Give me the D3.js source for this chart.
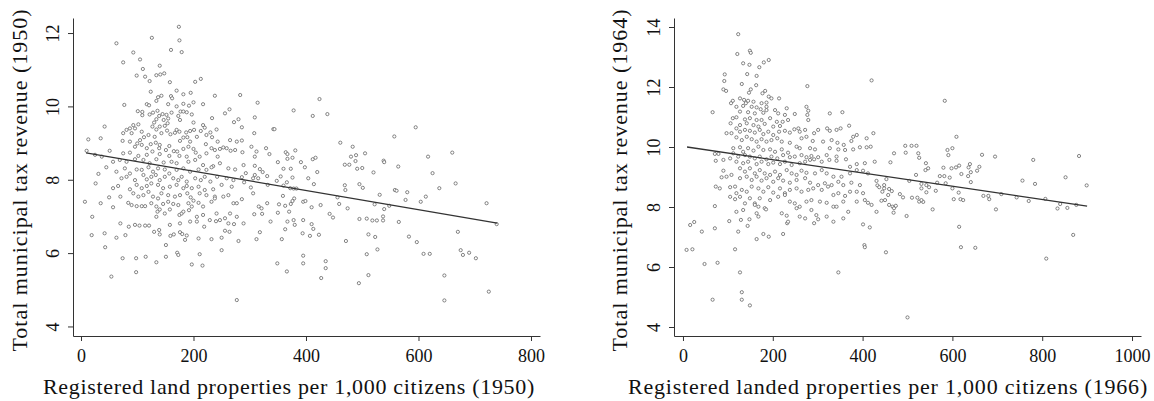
<!DOCTYPE html>
<html>
<head>
<meta charset="utf-8">
<script src="https://cdn.jsdelivr.net/npm/d3@7"></script>
<style>
    body { margin: 0; background: #fff; }
    text { font-family: "Liberation Serif", "DejaVu Serif", serif; fill: #111; }
    .tickLabel { font-size: 18px; }
    .axisTitle { font-size: 22px; }
    .punkt { fill: #fff; stroke: #666; stroke-width: 0.8; }
    .fitLine { stroke: #333; stroke-width: 1.3; fill: none; }
</style>
</head>
<body>
<div id="wrapper"></div>
<script>
// Punkte: [Grundstücke pro 1000 Einwohner, Steuereinnahmen]
const points1950 = [
[174,12.17],[126,11.87],[63,11.72],[175,11.8],[160,11.54],[179,11.48],[93,11.47],[75,11.2],[105,11.28],[140,11.11],[110,11.02],[99,10.84],[114,10.81],[134,10.85],[141,10.87],[148,10.9],[213,10.75],
[122,10.69],[158,10.66],[203,10.67],[124,10.40],[143,10.29],[137,10.25],[160,10.28],[162,10.22],[170,10.43],[182,10.33],[195,10.37],[238,10.29],[283,10.31],[134,10.15],[117,10.06],[121,10.03],[77,10.04],[155,10.06],[170,10.0],[182,10.07],[192,10.02],[200,10.11],[217,10.06],
[101,9.87],[109,9.85],[109,9.76],[122,9.78],[136,9.88],[139,9.74],[145,9.79],[152,9.77],[155,9.67],[147,9.63],[134,9.65],[128,9.83],[161,9.83],[173,9.74],[177,9.86],[182,9.86],[188,9.84],[176,9.63],[197,9.78],[233,9.68],[256,9.81],[264,9.92],[272,9.57],[280,9.65],[200,9.56],[130,9.56],[154,9.54],
[42,9.45],[93,9.49],[102,9.51],[87,9.40],[96,9.40],[81,9.36],[75,9.27],[90,9.27],[108,9.31],[127,9.45],[134,9.37],[140,9.45],[149,9.47],[143,9.27],[153,9.34],[170,9.36],[175,9.31],[167,9.28],[187,9.29],[194,9.33],[201,9.36],[217,9.49],[220,9.42],[213,9.33],[230,9.29],[241,9.37],[223,9.22],[120,9.22],[131,9.17],[112,9.16],[105,9.08],[159,9.24],[182,9.15],[189,9.16],[176,9.06],[194,9.04],[206,9.17],[233,9.16],[243,9.04],[265,9.08],[277,9.04],[13,9.1],[35,9.13],
[74,9.06],[87,9.04],[100,8.99],[96,8.90],[108,8.95],[117,8.86],[124,8.97],[133,9.01],[140,8.95],[139,8.86],[127,8.77],[151,8.81],[157,8.92],[165,8.78],[171,8.77],[182,8.84],[191,8.90],[200,8.84],[204,8.74],[222,8.97],[232,8.86],[238,8.81],[247,8.84],[253,8.88],[259,8.86],[266,8.79],[274,8.81],[223,8.72],[10,8.79],[25,8.68],[51,8.79],[75,8.72],[87,8.74],[102,8.65],[117,8.68],[140,8.70],[157,8.65],[175,8.65],[188,8.63],[211,8.63],[243,8.63],
[37,8.63],[57,8.49],[69,8.54],[81,8.49],[96,8.56],[111,8.54],[122,8.45],[134,8.56],[147,8.47],[161,8.49],[170,8.45],[191,8.49],[203,8.54],[217,8.40],[235,8.37],[247,8.45],[262,8.31],[274,8.28],[45,8.34],[63,8.22],[78,8.31],[87,8.17],[99,8.28],[108,8.27],[120,8.34],[128,8.22],[137,8.31],[149,8.28],[157,8.17],[170,8.27],[182,8.31],[194,8.22],[209,8.28],[223,8.27],[232,8.34],
[31,8.16],[72,8.04],[81,8.08],[96,7.99],[111,8.13],[117,8.01],[125,8.08],[133,8.13],[140,7.99],[149,8.08],[164,8.04],[173,7.99],[179,8.08],[188,7.95],[203,8.04],[213,7.99],[220,8.08],[230,7.95],[242,8.08],[259,8.04],[271,7.99],[26,7.90],[57,7.77],[66,7.83],[87,7.74],[99,7.86],[108,7.77],[117,7.83],[125,7.90],[137,7.86],[146,7.77],[158,7.81],[170,7.86],[182,7.77],[188,7.83],[197,7.77],[209,7.81],[220,7.72],[235,7.74],[250,7.86],[268,7.81],
[93,7.63],[102,7.54],[111,7.58],[120,7.67],[128,7.54],[137,7.49],[143,7.63],[155,7.58],[167,7.54],[176,7.58],[189,7.63],[195,7.52],[211,7.63],[223,7.58],[238,7.54],[253,7.54],[262,7.58],[50,7.52],[70,7.54],[84,7.37],[90,7.31],[99,7.28],[108,7.28],[114,7.28],[125,7.36],[134,7.27],[146,7.34],[155,7.40],[164,7.34],[173,7.31],[191,7.36],[200,7.43],[209,7.37],[217,7.27],[232,7.40],[238,7.49],[271,7.36],[277,7.36],[7,7.40],[35,7.36],[57,7.25],
[136,7.13],[140,7.19],[134,6.99],[149,7.08],[158,7.19],[175,7.04],[179,7.08],[182,7.13],[192,7.17],[197,7.27],[206,6.99],[194,6.86],[217,7.04],[229,6.90],[241,7.08],[247,6.90],[256,6.95],[265,7.08],[277,6.99],[20,6.99],[70,6.81],[85,6.72],[96,6.77],[104,6.75],[114,6.75],[121,6.75],[158,6.77],[176,6.81],[206,6.86],[219,6.72],[240,6.87],[262,6.81],[272,6.79],
[19,6.49],[42,6.54],[63,6.42],[79,6.49],[130,6.58],[139,6.63],[140,6.51],[159,6.47],[165,6.51],[176,6.57],[180,6.52],[188,6.48],[185,6.36],[209,6.40],[232,6.38],[250,6.42],[256,6.61],[264,6.58],[280,6.33],[43,6.16],[151,6.22],[250,6.08],[74,5.86],[98,5.86],[115,5.90],[134,5.75],[151,5.90],[171,6.01],[173,5.95],[197,5.69],[211,5.97],[216,5.66],[98,5.48],[54,5.36],[277,4.72],
[314,10.10],[424,10.20],[378,9.89],[309,9.70],[412,9.74],[438,9.79],[286,9.43],[342,9.38],[344,9.38],[595,9.43],[308,9.27],[557,9.18],[461,9.01],[286,9.07],[303,8.90],[329,8.86],[483,8.90],[312,8.77],[335,8.70],[364,8.75],[381,8.80],[367,8.70],[376,8.60],[287,8.75],[309,8.63],[367,8.57],[391,8.48],[412,8.56],[417,8.60],[480,8.63],[489,8.67],[505,8.72],[488,8.51],[538,8.52],[539,8.48],[617,8.63],
[469,8.41],[477,8.41],[289,8.40],[309,8.38],[350,8.48],[360,8.30],[373,8.30],[398,8.34],[564,8.36],[491,8.30],[500,8.32],[318,8.29],[323,8.21],[293,8.18],[420,8.21],[520,8.20],[625,8.18],[331,8.10],[309,8.13],[355,8.09],[376,8.06],[404,8.04],[306,8.04],[315,8.04],[286,8.07],[348,7.97],[366,7.93],[290,7.93],[332,7.86],[414,7.88],[360,7.84],[495,7.88],[469,7.85],[372,7.77],[378,7.76],[383,7.76],[470,7.72],[501,7.78],[302,7.79],[637,7.77],
[306,7.63],[558,7.72],[561,7.70],[580,7.66],[359,7.56],[456,7.52],[531,7.59],[613,7.54],[379,7.49],[376,7.42],[395,7.40],[399,7.42],[286,7.47],[577,7.45],[604,7.40],[331,7.36],[352,7.33],[363,7.29],[373,7.34],[410,7.25],[426,7.31],[459,7.34],[522,7.33],[548,7.29],[316,7.27],[321,7.22],[474,7.22],[539,7.20],[350,7.10],[370,7.13],[308,7.06],[322,7.07],[442,7.07],[448,6.97],[495,6.93],[508,6.94],[518,6.89],[526,6.89],[537,7.00],[537,6.89],
[337,6.86],[367,6.86],[378,6.90],[395,6.90],[380,6.77],[410,6.79],[289,6.81],[565,6.85],[363,6.65],[413,6.66],[318,6.57],[394,6.54],[407,6.47],[423,6.50],[511,6.51],[523,6.44],[312,6.38],[357,6.38],[471,6.33],[583,6.45],[597,6.30],[527,6.10],[395,5.93],[508,5.97],[609,5.98],[620,5.98],[349,5.72],[395,5.72],[435,5.78],[366,5.50],[435,5.59],[511,5.40],[427,5.32],[494,5.18],
[660,8.74],[666,7.9],[721,7.36],[739,6.79],[670,6.58],[675,6.08],[679,5.95],[690,6.01],[702,5.86],[646,5.39],[646,4.71],[725,4.95]
];

const points1964 = [
[123,13.76],[121,13.10],[149,13.21],[151,13.14],[420,12.22],[583,11.54],[882,9.70],[852,8.99],[899,8.72],[876,8.07],[869,7.07],[856,7.97],[840,8.1],[500,4.32],[8,6.57],[66,4.91],[131,5.16],[131,4.91],[149,4.72],
[134,12.79],[148,12.74],[170,12.66],[180,12.82],[191,12.9],[93,12.42],[143,12.43],[164,12.37],[92,12.2],[131,12.1],[163,12.06],[277,12.03],[90,11.92],[96,11.87],[151,11.92],[147,11.81],[183,11.87],[177,11.79],[191,11.68],[197,11.62],[214,11.62],[127,11.62],[136,11.57],[145,11.54],[157,11.51],[111,11.54],[107,11.46],[140,11.46],[175,11.46],[186,11.48],
[119,11.34],[134,11.37],[153,11.34],[164,11.32],[173,11.26],[186,11.34],[205,11.23],[231,11.29],[66,11.16],[127,11.18],[145,11.16],[160,11.12],[179,11.14],[186,11.23],[212,11.12],[227,11.07],[249,11.1],[275,11.34],[279,11.21],[277,11.07],[279,10.9],[327,11.12],[355,11.16],[111,10.96],[119,10.99],[138,10.92],[149,10.96],[164,10.9],[175,10.9],[194,10.96],[209,10.84],[222,10.84],[234,10.9],[106,10.79],[127,10.73],[142,10.79],[157,10.73],[168,10.68],[182,10.77],[201,10.68],[216,10.7],[370,10.71],
[97,10.46],[108,10.46],[119,10.62],[127,10.51],[138,10.57],[149,10.54],[160,10.48],[171,10.57],[179,10.43],[190,10.51],[201,10.4],[214,10.51],[227,10.54],[238,10.48],[248,10.59],[257,10.62],[260,10.51],[272,10.57],[292,10.46],[301,10.57],[321,10.62],[327,10.54],[342,10.57],[351,10.62],[387,10.4],[379,10.34],[409,10.29],[119,10.32],[131,10.23],[142,10.34],[153,10.26],[164,10.18],[175,10.26],[186,10.18],[197,10.23],[210,10.29],[220,10.18],[238,10.14],[264,10.29],[275,10.34],[289,10.2],[312,10.18],[331,10.23],[344,10.14],[358,10.07],[375,10.2],[394,9.99],[409,9.99],
[112,9.96],[127,9.99],[134,9.84],[145,9.96],[157,9.88],[168,10.01],[179,9.9],[194,9.92],[205,9.84],[220,9.92],[234,9.81],[253,10.01],[260,9.96],[283,9.96],[294,9.92],[327,9.96],[346,9.92],[361,9.9],[379,9.92],[71,9.77],[79,9.77],[112,9.79],[123,9.68],[138,9.73],[149,9.68],[160,9.62],[171,9.68],[186,9.59],[197,9.68],[210,9.62],[223,9.73],[238,9.66],[249,9.68],[264,9.73],[275,9.66],[286,9.7],[301,9.66],[320,9.73],[342,9.68],[363,9.59],[90,9.57],[105,9.62],[73,9.54],[119,9.51],[134,9.46],[145,9.51],[164,9.43],[175,9.51],[190,9.43],[201,9.48],[216,9.43],[227,9.51],[242,9.4],[260,9.46],[272,9.51],[283,9.57],[292,9.59],[309,9.51],[326,9.57],[342,9.54],[372,9.34],[387,9.43],[405,9.46],
[90,9.21],[108,9.07],[97,9.01],[86,8.99],[127,9.29],[138,9.18],[149,9.29],[160,9.12],[171,9.23],[182,9.12],[194,9.07],[205,9.18],[216,9.07],[231,9.23],[242,9.12],[253,9.07],[264,9.21],[275,9.14],[294,9.12],[309,9.23],[320,9.12],[335,9.01],[353,9.01],[372,9.12],[387,9.23],[401,9.21],[412,9.12],[127,8.96],[142,9.01],[153,8.9],[164,9.01],[175,8.88],[186,8.96],[201,8.84],[212,8.96],[223,8.88],[238,8.81],[253,8.9],[272,8.96],[283,8.81],[301,8.73],[316,8.79],[331,8.73],[346,8.84],[357,8.73],[375,8.81],[394,8.73],
[73,8.68],[82,8.62],[105,8.66],[116,8.68],[119,8.46],[131,8.57],[142,8.51],[153,8.68],[168,8.62],[179,8.51],[190,8.66],[201,8.48],[216,8.62],[227,8.46],[238,8.57],[253,8.62],[264,8.51],[279,8.57],[290,8.62],[309,8.57],[323,8.68],[335,8.4],[346,8.46],[361,8.37],[372,8.51],[387,8.51],[401,8.46],[412,8.14],[105,8.34],[116,8.26],[127,8.34],[138,8.12],[149,8.29],[160,8.12],[171,8.29],[182,7.96],[194,8.23],[212,8.34],[227,8.4],[238,8.18],[249,8.12],[260,8.01],[275,8.18],[286,8.23],[305,8.18],[320,8.14],[335,8.01],[342,8.01],[357,8.18],[387,8.18],[405,8.23],[71,8.03],
[119,7.84],[134,7.9],[160,8.07],[168,8.01],[164,7.79],[220,7.79],[231,7.71],[253,7.96],[272,7.62],[260,7.68],[286,7.9],[297,7.73],[320,7.68],[335,7.51],[357,7.62],[368,7.84],[292,7.46],[301,7.59],[232,7.46],[234,7.51],[103,7.53],[129,7.57],[148,7.59],[144,7.37],[168,7.68],[185,7.92],[401,7.42],[42,7.18],[71,7.29],[123,7.18],[179,7.1],[191,7.01],[223,7.1],[164,6.93],[25,7.5],[16,7.4],[21,6.59],[116,6.59],[404,6.73],[405,6.66],[48,6.1],[77,6.14],[127,5.82],[346,5.82],
[424,10.46],[418,10.01],[470,9.79],[495,10.04],[509,10.04],[520,10.04],[496,9.81],[524,9.79],[526,9.64],[589,9.9],[600,9.96],[591,9.73],[609,10.34],[427,9.51],[462,9.49],[541,9.46],[546,9.29],[540,9.23],[666,9.74],[695,9.68],[780,9.57],[580,9.31],[598,9.29],[608,9.32],[615,9.38],[639,9.43],[636,9.32],[660,9.34],[655,9.21],[641,9.16],[620,9.1],[635,9.03],[572,9.03],[582,9.03],[594,8.98],[519,9.07],[453,8.93],[431,8.87],
[433,8.72],[437,8.66],[448,8.73],[448,8.62],[459,8.6],[465,8.53],[444,8.51],[504,8.87],[531,8.77],[542,8.73],[548,8.66],[531,8.62],[566,8.81],[585,8.79],[600,8.62],[563,8.54],[542,8.49],[614,8.48],[641,8.83],[756,8.88],[784,8.77],[483,8.43],[490,8.32],[510,8.31],[522,8.31],[526,8.18],[535,8.17],[531,8.23],[457,8.4],[450,8.23],[442,8.21],[420,8.07],[467,8.01],[470,7.96],[474,8.04],[459,8.07],[431,7.84],[469,7.81],[498,7.7],[556,7.92],
[603,8.26],[618,8.26],[624,8.23],[669,8.37],[680,8.37],[682,8.26],[709,8.43],[743,8.32],[770,8.2],[807,8.27],[834,7.95],[697,7.92],[416,7.32],[615,7.34],[452,6.49],[619,6.66],[651,6.64],[809,6.28]
];

// Regressionsgeraden (Endpunkte)
const fit1950 = [[9, 8.73], [740, 6.82]];
const fit1964 = [[9, 10.0], [900, 8.03]];

const xTicks1950 = [0, 200, 400, 600, 800];
const yTicks1950 = [4, 6, 8, 10, 12];
const xTicks1964 = [0, 200, 400, 600, 800, 1000];
const yTicks1964 = [4, 6, 8, 10, 12, 14];

const xTitle1950 = "Registered land properties per 1,000 citizens (1950)";
const yTitle1950 = "Total municipal tax revenue (1950)";
const xTitle1964 = "Registered landed properties per 1,000 citizens (1966)";
const yTitle1964 = "Total municipal tax revenue (1964)";


const width = 1154;
const height = 401;

const svg = d3.select('#wrapper')
    .append('svg')
    .attr('width', width)
    .attr('height', height);

// Text auf Zielbreite bringen (CM-Schrift ist breiter als Times)
function fitText(sel, target) {
    const len = sel.node().getComputedTextLength();
    const n = sel.text().length;
    sel.attr('letter-spacing', (target - len) / n);
}

function drawPanel(cfg) {
    const x = d3.scaleLinear().domain(cfg.xDomain).range([cfg.left, cfg.right]);
    const y = d3.scaleLinear().domain(cfg.yDomain).range([cfg.bottom, cfg.top]);

    const g = svg.append('g');

    /// ACHSEN
    const xAxis = g.append('g')
        .attr('transform', `translate(0, ${cfg.bottom})`)
        .attr('color', '#333')
        .call(d3.axisBottom(x).tickValues(cfg.xTicks).tickSize(5).tickSizeOuter(0).tickPadding(8).tickFormat(d3.format('d')));
    xAxis.selectAll('text').attr('class', 'tickLabel');

    const yAxis = g.append('g')
        .attr('transform', `translate(${cfg.left}, 0)`)
        .attr('color', '#333')
        .call(d3.axisLeft(y).tickValues(cfg.yTicks).tickSize(5).tickSizeOuter(0).tickFormat(d3.format('d')));
    yAxis.selectAll('text')
        .attr('class', 'tickLabel')
        .attr('x', null)
        .attr('dy', null)
        .attr('text-anchor', 'middle')
        .attr('transform', `translate(${cfg.yTickBase - cfg.left}, 0) rotate(-90)`);

    /// PUNKTE
    g.selectAll('circle')
        .data(cfg.points)
        .enter()
        .append('circle')
        .attr('class', 'punkt')
        .attr('cx', d => x(d[0]))
        .attr('cy', d => y(d[1]))
        .attr('r', 1.6);

    /// LINIE
    g.append('path')
        .attr('class', 'fitLine')
        .attr('d', d3.line().x(d => x(d[0])).y(d => y(d[1]))(cfg.fit));

    /// TITEL
    const xt = g.append('text')
        .attr('class', 'axisTitle')
        .attr('text-anchor', 'middle')
        .attr('x', cfg.xTitleX)
        .attr('y', 394)
        .text(cfg.xTitle);
    fitText(xt, cfg.xTitleW);

    const yt = g.append('text')
        .attr('class', 'axisTitle')
        .attr('text-anchor', 'middle')
        .attr('transform', `translate(${cfg.yTitleBase}, 180) rotate(-90)`)
        .text(cfg.yTitle);
    fitText(yt, 343);
}

drawPanel({
    points: points1950, fit: fit1950,
    xTicks: xTicks1950, yTicks: yTicks1950,
    xDomain: [-14.2, 816], yDomain: [3.74, 12.41],
    left: 73, right: 540, top: 18, bottom: 336,
    yTickBase: 59, yTitleBase: 27,
    xTitle: xTitle1950, yTitle: yTitle1950, xTitleX: 289, xTitleW: 492
});

drawPanel({
    points: points1964, fit: fit1964,
    xTicks: xTicks1964, yTicks: yTicks1964,
    xDomain: [-20, 1020], yDomain: [3.7, 14.3],
    left: 674, right: 1141, top: 18, bottom: 336,
    yTickBase: 660, yTitleBase: 627,
    xTitle: xTitle1964, yTitle: yTitle1964, xTitleX: 888, xTitleW: 520
});
</script>
</body>
</html>
